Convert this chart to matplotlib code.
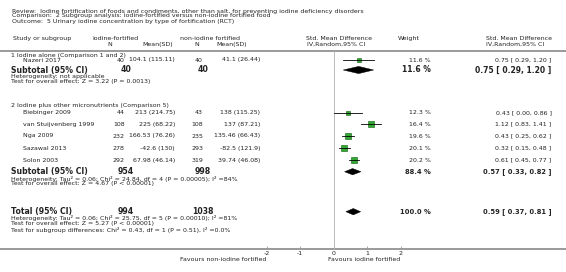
import matplotlib
matplotlib.use('Agg')
import matplotlib.pyplot as plt
from matplotlib.patches import Polygon

# ---- data ----
studies = ['Nazeri 2017', 'Biebinger 2009', 'van Stuijvenberg 1999',
           'Nga 2009', 'Sazawal 2013', 'Solon 2003']
n_fort = [40, 44, 108, 232, 278, 292]
mean_fort = [104.1, 213, 225, 166.53, -42.6, 67.98]
sd_fort = [115.11, 214.75, 68.22, 76.26, 130, 46.14]
n_ctrl = [40, 43, 108, 235, 293, 319]
mean_ctrl = [41.1, 138, 137, 135.46, -82.5, 39.74]
sd_ctrl = [26.44, 115.25, 87.21, 66.43, 121.9, 46.08]
smd = [0.75, 0.43, 1.12, 0.43, 0.32, 0.61]
ci_lo = [0.29, 0.00, 0.83, 0.25, 0.15, 0.45]
ci_hi = [1.20, 0.86, 1.41, 0.62, 0.48, 0.77]
weight = [11.6, 12.3, 16.4, 19.6, 20.1, 20.2]

pooled_label = ['Subtotal (95% CI)', 'Subtotal (95% CI)', 'Total (95% CI)']
pooled_n_fort = [40, 954, 994]
pooled_n_ctrl = [40, 998, 1038]
pooled_smd = [0.75, 0.57, 0.59]
pooled_lo = [0.29, 0.33, 0.37]
pooled_hi = [1.20, 0.82, 0.81]
pooled_w = [11.6, 88.4, 100.0]

x_ticks = [-2, -1, 0, 1, 2]

# ---- layout (pixel rows) ----
study_y = [60, 112.5, 124.2, 136, 148.3, 160.3]
pooled_y = [70, 171.7, 211.7]

TXT = '#222222'
GRID = '#9a9a9a'
fs = 4.5

fig = plt.figure(figsize=(5.66, 2.72), dpi=100)
ax = fig.add_axes([0, 0, 1, 1])
ax.set_xlim(0, 566)
ax.set_ylim(272, 0)
ax.axis('off')

# forest panel: zero at x=333.5 px, 33.5 px per unit
left_px = 333.5 - 2.5 * 33.5
fx = fig.add_axes([left_px / 566, 0, 5 * 33.5 / 566, 1])
fx.set_xlim(-2.5, 2.5)
fx.set_ylim(272, 0)
fx.patch.set_visible(False)
for s in ['top', 'left', 'right']:
    fx.spines[s].set_visible(False)
fx.spines['bottom'].set_position(('data', 249))
fx.spines['bottom'].set_visible(False)
fx.set_yticks([])
fx.set_xticks(x_ticks)
fx.set_xticklabels([str(t) for t in x_ticks])
fx.tick_params(axis='x', direction='in', length=2.5, width=0.6, color=GRID,
               labelsize=fs, labelcolor=TXT, pad=1.5)

def t(x, y, s, **kw):
    kw.setdefault('fontsize', fs)
    kw.setdefault('color', TXT)
    kw.setdefault('va', 'center')
    ax.text(x, y, s, **kw)

# header block
t(12, 11, 'Review:  Iodine fortification of foods and condiments, other than salt, for preventing iodine deficiency disorders')
t(12, 16, 'Comparison:  2 Subgroup analysis: iodine-fortified versus non-iodine fortified food')
t(12, 21, 'Outcome:  5 Urinary iodine concentration by type of fortification (RCT)')

t(13, 38.3, 'Study or subgroup')
t(92.5, 38.3, 'iodine-fortified')
t(110, 44.3, 'N', ha='center')
t(158, 44.3, 'Mean(SD)', ha='center')
t(180, 38.3, 'non-iodine fortified')
t(197, 44.3, 'N', ha='center')
t(232, 44.3, 'Mean(SD)', ha='center')
t(339, 38.3, 'Std. Mean Difference', ha='center')
t(336, 44.3, 'IV,Random,95% CI', ha='center')
t(409, 38.3, 'Weight', ha='center')
t(519, 38.3, 'Std. Mean Difference', ha='center')
t(515, 44.3, 'IV,Random,95% CI', ha='center')

ax.plot([0, 566], [50.5, 50.5], color=GRID, lw=1.4, solid_capstyle='butt')
ax.plot([0, 566], [249, 249], color=GRID, lw=1.4, solid_capstyle='butt')
fx.plot([0, 0], [50.5, 249], color='#b0b0b0', lw=0.6)

# group headers
t(11, 55, '1 Iodine alone (Comparison 1 and 2)')
t(11, 106, '2 Iodine plus other micronutrients (Comparison 5)')

# study rows
for i, name in enumerate(studies):
    y = study_y[i]
    t(23, y, name)
    t(124.5, y, str(n_fort[i]), ha='right')
    t(175, y, '{:g} ({:g})'.format(mean_fort[i], sd_fort[i]), ha='right')
    t(203, y, str(n_ctrl[i]), ha='right')
    t(260, y, '{:g} ({:g})'.format(mean_ctrl[i], sd_ctrl[i]), ha='right')
    t(431, y, '{:.1f} %'.format(weight[i]), ha='right')
    t(551.5, y, '{:.2f} [ {:.2f}, {:.2f} ]'.format(smd[i], ci_lo[i], ci_hi[i]), ha='right')
    fx.plot([ci_lo[i], ci_hi[i]], [y, y], color='black', lw=0.6, zorder=3)
    side = 0.31 * weight[i] * 0.72
    fx.scatter([smd[i]], [y], s=side ** 2, marker='s', color='#33a833',
               edgecolor='#0b5d0b', linewidth=0.4, zorder=2)

# pooled rows
for k in range(3):
    y = pooled_y[k]
    big = 5.5 if k == 0 else 4.9
    t(11, y, pooled_label[k], fontsize=5.6, fontweight='bold')
    t(126, y, str(pooled_n_fort[k]), ha='center', fontsize=5.6, fontweight='bold')
    t(203, y, str(pooled_n_ctrl[k]), ha='center', fontsize=5.6, fontweight='bold')
    t(431, y, '{:.1f} %'.format(pooled_w[k]), ha='right', fontsize=big, fontweight='bold')
    t(551.5, y, '{:.2f} [ {:.2f}, {:.2f} ]'.format(pooled_smd[k], pooled_lo[k], pooled_hi[k]),
      ha='right', fontsize=big, fontweight='bold')
    h = 3.6 if k == 0 else 3.2
    fx.add_patch(Polygon([(pooled_lo[k], y), (pooled_smd[k], y - h),
                          (pooled_hi[k], y), (pooled_smd[k], y + h)],
                         closed=True, facecolor='black', edgecolor='black', lw=0.3, zorder=3))

# heterogeneity / tests
t(11, 76.7, 'Heterogeneity: not applicable')
t(11, 81.7, 'Test for overall effect: Z = 3.22 (P = 0.0013)')
t(11, 178.5, 'Heterogeneity: Tau\u00b2 = 0.06; Chi\u00b2 = 24.84, df = 4 (P = 0.00005); I\u00b2 =84%')
t(11, 184, 'Test for overall effect: Z = 4.67 (P < 0.00001)')
t(11, 218.3, 'Heterogeneity: Tau\u00b2 = 0.06; Chi\u00b2 = 25.75, df = 5 (P = 0.00010); I\u00b2 =81%')
t(11, 224, 'Test for overall effect: Z = 5.27 (P < 0.00001)')
t(11, 229.7, 'Test for subgroup differences: Chi\u00b2 = 0.43, df = 1 (P = 0.51), I\u00b2 =0.0%')

# favours labels
fx.text(-2, 259.7, 'Favours non-iodine fortified', ha='right', va='center', fontsize=fs, color=TXT)
fx.text(2, 259.7, 'Favours iodine fortified', ha='right', va='center', fontsize=fs, color=TXT)

fig.savefig('out.png', dpi=100, facecolor='white')
